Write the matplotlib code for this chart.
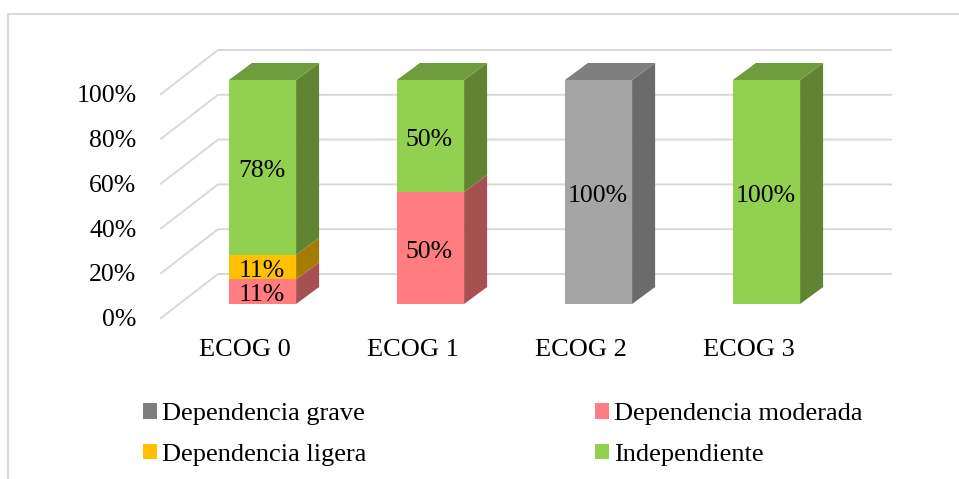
import matplotlib
matplotlib.use('Agg')
import matplotlib.pyplot as plt
from matplotlib.lines import Line2D
from matplotlib.patches import Patch, Polygon

plt.rcParams['font.family'] = ['Liberation Serif', 'DejaVu Serif']

categorias = ['ECOG 0', 'ECOG 1', 'ECOG 2', 'ECOG 3']
grave = [0, 0, 100, 0]
moderada = [11, 50, 0, 0]
ligera = [11, 0, 0, 0]
independiente = [78, 50, 0, 100]
ticks = [0, 20, 40, 60, 80, 100]

# nombre, valores, frente, lateral, tapa, leyenda
series = [
    ('Dependencia grave', grave, '#A5A5A5', '#6B6B6B', '#7F7F7F', '#7F7F7F'),
    ('Dependencia moderada', moderada, '#FF7C80', '#A65052', '#C06063', '#FF7C80'),
    ('Dependencia ligera', ligera, '#FFC000', '#A67C00', '#BF9000', '#FFC000'),
    ('Independiente', independiente, '#92D050', '#5F8532', '#6F9C3D', '#92D050'),
]

ancho_px, alto_px = 959, 479
px_x = 168.0   # pixeles por categoria
px_y = 2.24    # pixeles por punto porcentual
x0_px, y0_px = 262.5, 304.0

fig = plt.figure(figsize=(ancho_px / 100, alto_px / 100), dpi=100, facecolor='white')
ax = fig.add_axes([0, 0, 1, 1])
ax.set_xlim(-x0_px / px_x, (ancho_px - x0_px) / px_x)
ax.set_ylim((y0_px - alto_px) / px_y, y0_px / px_y)
ax.axis('off')

ancho = 0.4
prof_x = 23 / px_x
prof_y = 17 / px_y
gris = '#D9D9D9'
fuente = 19
fuente_num = 18.5

# rejilla 3D: pared del fondo y suelo lateral
izq, fondo, der = -101.5 / px_x, -44.5 / px_x, 628.5 / px_x
frente_y, fondo_y = -14 / px_y, 30 / px_y
for t in ticks:
    ax.plot([izq, fondo, der], [t + frente_y, t + fondo_y, t + fondo_y],
            color=gris, lw=1.4, zorder=1, solid_joinstyle='miter')
    ax.text(-126 / px_x, t + frente_y - 1.0, f'{t}%', ha='right', va='center',
            fontsize=fuente_num, color='black')

# barras apiladas con cara lateral y tapa
for i, cat in enumerate(categorias):
    base = 0
    activas = [s for s in series if s[1][i] > 0]
    x1 = i - ancho / 2
    x2 = i + ancho / 2
    for nombre, valores, frente, lateral, tapa, _ in activas:
        v = valores[i]
        ax.bar(i, v, ancho, bottom=base, color=frente, linewidth=0, zorder=3)
        ax.add_patch(Polygon([(x2, base), (x2 + prof_x, base + prof_y),
                              (x2 + prof_x, base + v + prof_y), (x2, base + v)],
                             closed=True, fc=lateral, ec='none', zorder=3))
        ax.text(i - 1 / px_x, base + v / 2 - 1.6, f'{v}%', ha='center', va='center',
                fontsize=fuente_num, color='black', zorder=5)
        base += v
    ax.add_patch(Polygon([(x1, base), (x1 + prof_x, base + prof_y),
                          (x2 + prof_x, base + prof_y), (x2, base)],
                         closed=True, fc=activas[-1][4], ec='none', zorder=3))
    ax.text(i - 17.5 / px_x, -45.5 / px_y, cat, ha='center', va='center',
            fontsize=fuente, color='black')

# marco del area del grafico
fig.add_artist(Line2D([8 / ancho_px, 8 / ancho_px, 1], [0, 1 - 14 / alto_px, 1 - 14 / alto_px],
                      color=gris, lw=1.5))

orden = [series[0], series[2], series[1], series[3]]
manejadores = [Patch(fc=s[5], ec='none', label=s[0]) for s in orden]
fig.legend(handles=manejadores, ncols=2, frameon=False, fontsize=fuente,
           loc='upper left', bbox_to_anchor=(143 / ancho_px, 1 - 403 / alto_px),
           borderaxespad=0, borderpad=0, handlelength=0.53, handleheight=0.53,
           handletextpad=0.19, columnspacing=8.67, labelspacing=0.71)

fig.savefig('out.png', dpi=100)
